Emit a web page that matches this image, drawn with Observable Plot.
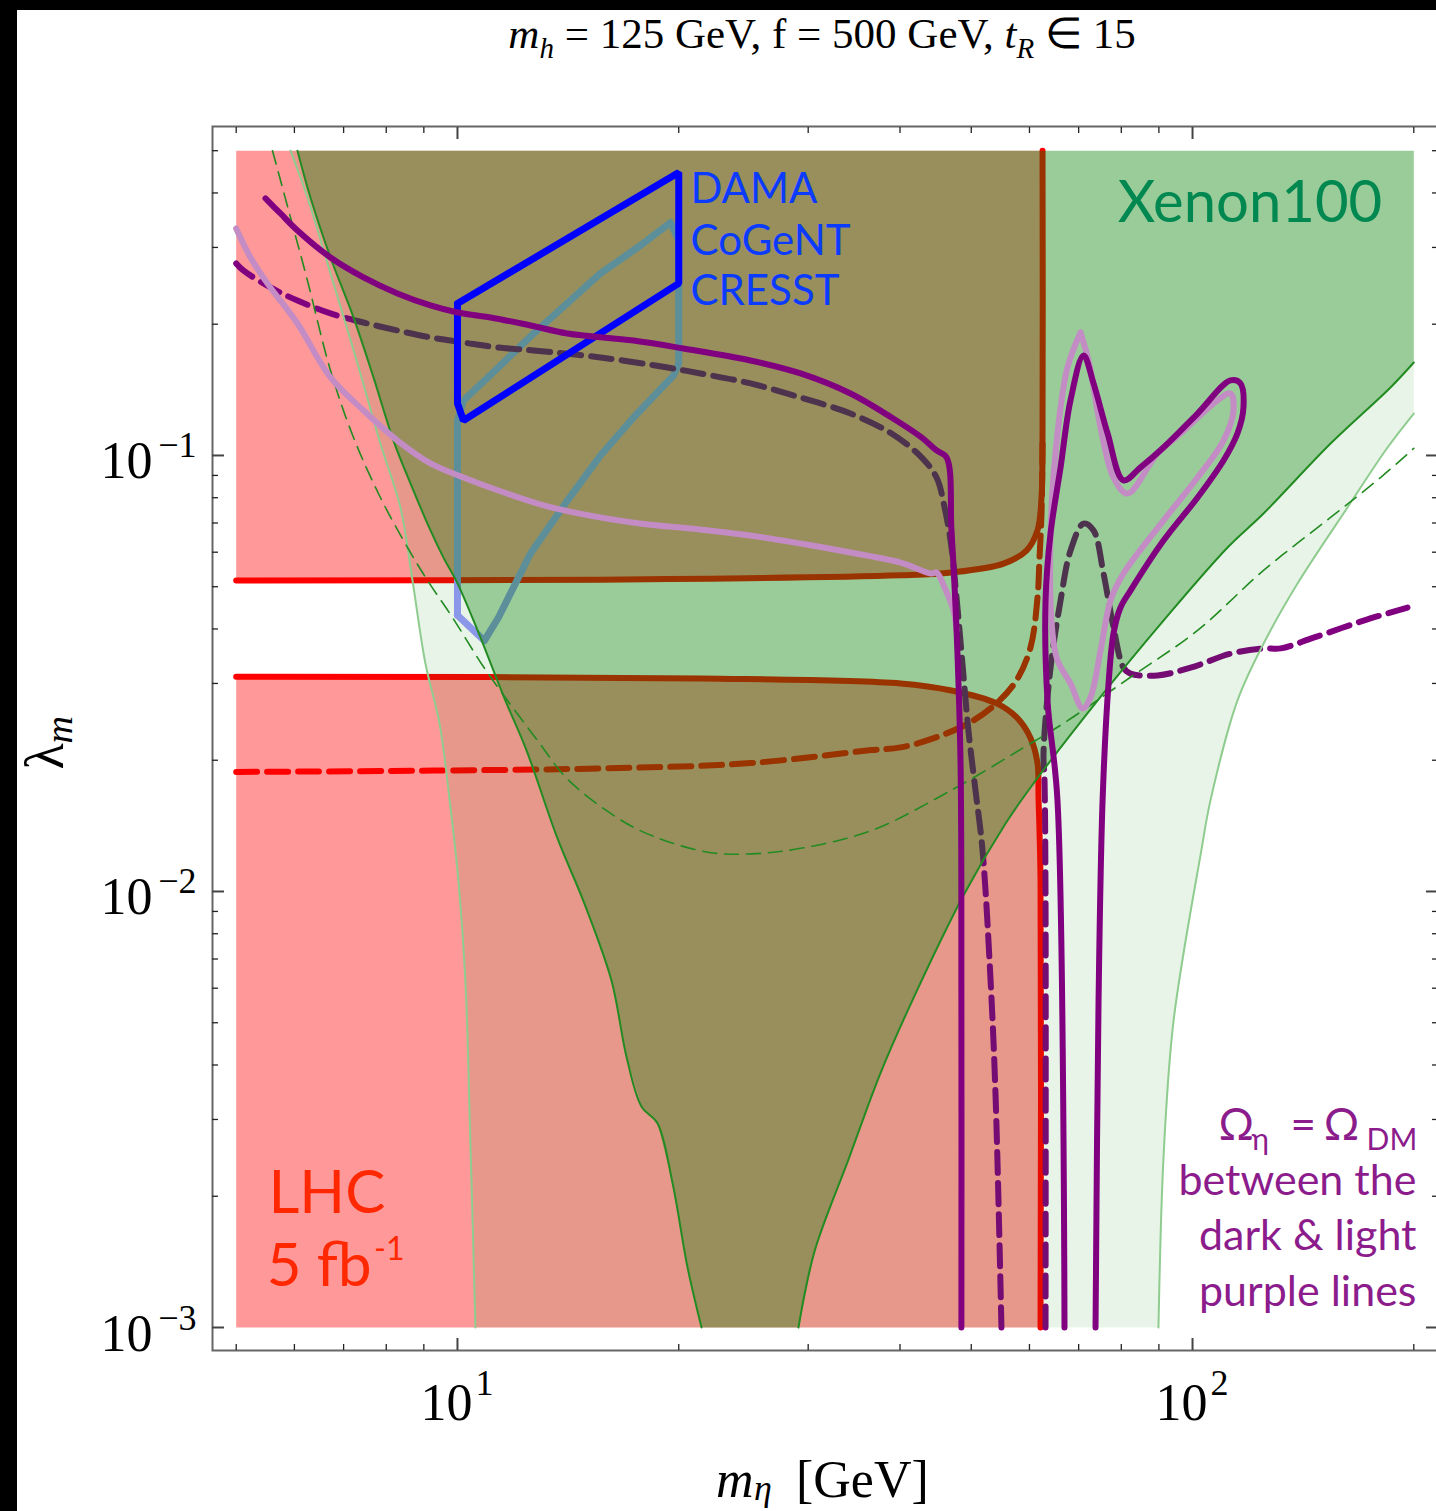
<!DOCTYPE html>
<html>
<head>
<meta charset="utf-8">
<script src="https://cdn.jsdelivr.net/npm/d3@7"></script>
<script src="https://cdn.jsdelivr.net/npm/@observablehq/plot@0.6"></script>
<style>
html, body { margin:0; padding:0; background:#fff; overflow:hidden; width:1436px; height:1511px; }
#edgeLeft { position:absolute; left:0; top:0; width:17px; height:1511px; background:#000; z-index:3; }
#edgeTop { position:absolute; left:0; top:0; width:1436px; height:10px; background:#000; z-index:3; }
#title { position:absolute; left:0; top:12px; width:1644px; text-align:center; font-family:"Liberation Serif","Times New Roman",serif; font-size:43px; line-height:43px; color:#000; white-space:nowrap; }
#title .sub { font-size:29px; position:relative; top:10px; font-style:italic; }
#chart { position:absolute; left:0; top:70px; width:1436px; height:1441px; overflow:hidden; }
#chart svg { max-width:none; }
</style>
</head>
<body>
<div id="edgeLeft"></div><div id="edgeTop"></div>
<div id="title"><i>m</i><span class="sub">h</span> = 125 GeV, f = 500 GeV, <i>t</i><span class="sub">R</span> ∈ 15</div>
<div id="chart"></div>
<script>
// ---------- data: [m_eta (GeV), lambda_m] ----------
const lhcUpper = [[5,0.0517],[15.65,0.0519],[40.07,0.0531],[47.0,0.0539],[55.33,0.0565],[59.44,0.0605],[61.53,0.0673],[62.31,0.0801],[62.51,0.1141],[62.51,0.5]];
const lhcLower = [[5,0.0311],[21.41,0.0308],[40.07,0.0300],[47.0,0.0289],[54.12,0.0270],[57.61,0.0251],[60.20,0.0225],[61.53,0.0197],[61.73,0.0164],[62.12,0.0106],[62.12,0.001]];
const lhcDashed = [[5,0.0188],[15.65,0.01915],[25.04,0.0197],[36.59,0.0211],[40.07,0.0214],[44.57,0.0225],[49.56,0.0243],[54.12,0.0270],[57.61,0.0305],[60.20,0.0363],[61.53,0.0472],[61.92,0.0583],[62.31,0.0736],[62.51,0.1065]];

const xenonLeft = [[6.058,0.5],[6.310,0.3905],[6.718,0.2845],[7.220,0.2073],[7.687,0.1510],[8.183,0.1082],[8.631,0.0863],[9.190,0.0673],[9.571,0.0583],[10,0.0509],[10.65,0.0397],[11.62,0.0274],[12.41,0.0211],[13.68,0.01323],[14.88,0.00939],[16.20,0.00625],[16.98,0.00418],[17.80,0.00321],[18.71,0.00294],[19.61,0.00215],[20.56,0.001373],[21.48,0.001]];
const xenonRight = [[29.10,0.001],[30.60,0.001494],[34.04,0.002429],[37.51,0.003784],[41.21,0.005446],[48.79,0.00979],[55.67,0.01432],[60.20,0.01732],[74.26,0.0274],[91.3,0.0418],[111.6,0.0615],[124.9,0.0736],[154.1,0.1065],[185.9,0.1432],[200,0.1634]];
const lightLeft = [[5.927,0.5],[6.250,0.3905],[6.718,0.2615],[7.311,0.1626],[7.855,0.1065],[8.363,0.0760],[8.685,0.0517],[9.046,0.0333],[9.452,0.0243],[9.783,0.01558],[10.03,0.0106],[10.25,0.00625],[10.42,0.002547],[10.58,0.001]];
const lightRight = [[89.88,0.001],[91.3,0.002442],[94.2,0.00503],[102.8,0.01242],[105.8,0.0162],[115.1,0.0274],[124.9,0.0370],[139.0,0.0509],[162.5,0.0760],[184.2,0.1043],[200,0.1248]];
const xenonDashed = [[5.602,0.5],[5.927,0.3515],[6.250,0.2520],[6.718,0.1567],[7.220,0.1100],[7.855,0.0801],[8.551,0.0615],[9.104,0.0517],[9.845,0.0425],[10.78,0.0333],[11.51,0.02845],[12.85,0.0222],[14.16,0.0180],[16.72,0.01455],[18.65,0.01330],[22.02,0.01229],[25.20,0.0122],[29.29,0.01256],[36.59,0.0138],[46.42,0.01688],[60.20,0.02185],[66.75,0.0243],[82.34,0.0310],[101.6,0.0397],[124.9,0.0545],[154.1,0.0721],[180.2,0.0890],[200,0.1038]];

const purpleSolid = [[5.481,0.3885],[5.744,0.3589],[6.058,0.3281],[6.718,0.2845],[7.451,0.2561],[8.287,0.2353],[9.190,0.2208],[10,0.2128],[11.09,0.2073],[12.57,0.1987],[14.11,0.1905],[17.36,0.1835],[20.30,0.1759],[25.04,0.1651],[29.29,0.1542],[34.25,0.1387],[38.95,0.1222],[42.79,0.1100],[44.85,0.1027],[46.28,0.0990],[47.0,0.0673],[47.75,0.0397],[48.35,0.0197],[48.48,0.00562],[48.48,0.001]];
const purpleLoop = [[66.96,0.001],[65.50,0.0162],[63.49,0.0274],[63.10,0.0465],[64.10,0.0663],[66.14,0.0939],[68.23,0.1337],[71.08,0.1695],[73.34,0.1463],[76.64,0.1123],[80.55,0.0877],[84.97,0.0939],[91.3,0.1043],[101.6,0.1248],[112.6,0.1486],[116.2,0.1463],[117.3,0.1288],[115.1,0.1123],[110.2,0.0974],[101.6,0.0801],[91.3,0.0638],[82.34,0.0490],[79.80,0.0448],[78.08,0.0391],[76.87,0.0300],[75.45,0.0162],[74.50,0.00562],[73.80,0.001]];
const purpleDashedLeft = [[5.0,0.2757],[5.113,0.2657],[5.567,0.2428],[6.058,0.2267],[6.718,0.2117],[7.451,0.2018],[8.287,0.1935],[9.190,0.1865],[10.19,0.1816],[11.33,0.1769],[12.69,0.1741],[15.65,0.1678],[19.31,0.1591],[21.41,0.1542],[25.04,0.1463],[29.29,0.1358],[34.25,0.1248],[38.95,0.1123],[42.79,0.0990],[44.85,0.0890],[45.99,0.0760],[47.0,0.0615],[47.75,0.0472],[48.64,0.0333],[49.56,0.0234],[50.68,0.0170],[51.80,0.01242],[53.12,0.00625],[53.95,0.00342],[54.96,0.001]];
const purpleDashedRight = [[63.10,0.001],[63.10,0.00954],[62.90,0.0180],[62.70,0.0207],[64.10,0.0326],[66.14,0.0465],[68.23,0.0605],[71.08,0.0698],[73.34,0.0673],[75.67,0.0536],[78.08,0.0403],[80.55,0.0326],[82.34,0.0316],[89.62,0.0313],[99.4,0.0326],[112.6,0.0351],[124.9,0.0361],[131.8,0.0361],[146.1,0.0382],[170.9,0.0418],[196.1,0.0448]];
const lightPurpleCurve = [[5.0,0.3316],[5.229,0.2845],[5.513,0.2481],[6.058,0.2008],[6.718,0.1510],[7.451,0.1268],[8.287,0.1082],[9.190,0.0959],[10.19,0.0890],[11.37,0.0831],[13.42,0.0760],[17.69,0.0698],[20.82,0.0680],[25.04,0.0655],[29.29,0.0628],[34.25,0.0599],[40.07,0.0568],[44.15,0.0536],[44.85,0.0539],[45.99,0.0498],[47.30,0.0441],[47.75,0.0397]];
const lightPurpleLoop = [[70.41,0.1915],[67.58,0.1591],[65.50,0.1123],[64.10,0.0663],[64.49,0.0391],[65.50,0.0339],[68.23,0.0300],[70.86,0.0263],[72.66,0.0279],[74.97,0.0357],[77.35,0.0465],[80.55,0.0536],[91.3,0.0709],[101.6,0.0890],[110.2,0.1082],[113.7,0.1268],[112.6,0.1387],[108.1,0.1337],[96.31,0.1123],[89.62,0.1011],[81.57,0.0818],[78.08,0.0890],[74.97,0.1159],[72.20,0.1651],[70.41,0.1915]];

const cogent = [[10,0.0430],[10,0.1203],[10.19,0.1337],[11.44,0.1608],[12.69,0.1904],[14.25,0.2267],[15.65,0.2615],[17.74,0.3031],[19.49,0.3423],[20.0,0.3112],[20.0,0.1626],[19.68,0.1526],[17.36,0.1222],[15.65,0.1],[14.11,0.0788],[12.57,0.0596],[11.37,0.0425],[10.88,0.0376]];
const dama = [[10,0.2231],[20,0.4457],[20,0.2481],[10.19,0.1203],[10,0.1316]];

// ---------- labels ----------
const blueLabels = [{text:"DAMA", m:20.75, lam:0.3784},{text:"CoGeNT", m:20.75, lam:0.2875},{text:"CRESST", m:20.75, lam:0.2208}];
const xenonLabel = [{text:"Xenon100", m:79.1, lam:0.3423}];
const lhcLabels = [{text:"LHC", m:5.533, lam:0.001835},{text:"5 fb", m:5.50, lam:0.001248}];
const lhcExponent = [{text:"-1", m:7.70, lam:0.00143}];
const relicBig = [{text:"Ω", m:108.5, lam:0.002685},{text:"=", m:135.9, lam:0.002685},{text:"Ω", m:150.8, lam:0.002685}];
const relicSub = [{text:"η", m:120.3, lam:0.002547},{text:"DM", m:172.5, lam:0.002547}];
const relicLines = [{text:"between the", m:201.7, lam:0.002008},{text:"dark & light", m:201.7, lam:0.001502},{text:"purple lines", m:201.7, lam:0.001123}];

const xMajorTicks = [10, 100];
const xMinorTicks = [5,6,7,8,9,20,30,40,50,60,70,80,90,200];
const yMajorTicks = [0.001, 0.01, 0.1];
const yMinorTicks = [0.002,0.003,0.004,0.005,0.006,0.007,0.008,0.009,0.02,0.03,0.04,0.05,0.06,0.07,0.08,0.09,0.2,0.3,0.4,0.5];
const xTickLabels = [{v:10, base:"10", exp:"1"},{v:100, base:"10", exp:"2"}];
const yTickLabels = [{v:0.1, base:"10", exp:"\u22121"},{v:0.01, base:"10", exp:"\u22122"},{v:0.001, base:"10", exp:"\u22123"}];

// ---------- styles ----------
const pink = "#ff9999", red = "#ff0000", purple = "#800080", lightPurple = "#c48cc4";
const darkGreen = "#228b22", lightGreenLine = "#8fcc8f";
const serif = "'Liberation Serif', 'Times New Roman', serif";
const sans = "Lato, 'Open Sans', sans-serif";
const cr = "catmull-rom";
const L = (data, opts) => Plot.line(data, {x: d => d[0], y: d => d[1], ...opts});
const closed = a => [...a, a[0]];
const rev = a => [...a].reverse();

// faint band: light boundary minus the Xenon100 region (two pieces)
const faintLeftPoly = [...lightLeft, ...rev(xenonLeft)];
const faintRightPoly = [...xenonRight, ...rev(lightRight)];

const marks = [
  L([...lhcUpper, [5, 0.5]], {fill: pink, stroke: "none"}),
  L([...lhcLower, [5, 0.001]], {fill: pink, stroke: "none"}),
  L(lhcUpper, {stroke: red, strokeWidth: 6, curve: cr}),
  L(lhcLower, {stroke: red, strokeWidth: 6, curve: cr}),
  L(lhcDashed, {stroke: red, strokeWidth: 6, strokeDasharray: "21,10", curve: cr}),
  L(closed(cogent), {stroke: "#9999ff", strokeWidth: 7, strokeLinejoin: "round"}),
  L(purpleDashedLeft, {stroke: purple, strokeWidth: 6, strokeDasharray: "21,10", curve: cr}),
  L(purpleDashedRight, {stroke: purple, strokeWidth: 6, strokeDasharray: "21,10", curve: cr}),
  L(faintLeftPoly, {fill: "#008000", fillOpacity: 0.09, stroke: "none"}),
  L(faintRightPoly, {fill: "#008000", fillOpacity: 0.09, stroke: "none"}),
  L([...xenonLeft, ...xenonRight, [200, 0.5]], {fill: "#008000", fillOpacity: 0.4, stroke: "none"}),
  L(lightLeft, {stroke: lightGreenLine, strokeWidth: 2, curve: cr}),
  L(lightRight, {stroke: lightGreenLine, strokeWidth: 2, curve: cr}),
  L(xenonLeft, {stroke: darkGreen, strokeWidth: 2, curve: cr}),
  L(xenonRight, {stroke: darkGreen, strokeWidth: 2, curve: cr}),
  L(xenonDashed, {stroke: darkGreen, strokeWidth: 1.6, strokeDasharray: "14,8", curve: cr}),
  L(closed(dama), {stroke: "#0000ff", strokeWidth: 7, strokeLinejoin: "miter"}),
  L(lightPurpleCurve, {stroke: lightPurple, strokeWidth: 6, curve: cr}),
  L(lightPurpleLoop, {stroke: lightPurple, strokeWidth: 6, curve: cr}),
  L(purpleSolid, {stroke: purple, strokeWidth: 6, curve: cr}),
  L(purpleLoop, {stroke: purple, strokeWidth: 6, curve: cr}),

  Plot.text(blueLabels, {x: "m", y: "lam", text: "text", textAnchor: "start", lineAnchor: "bottom", fontSize: 42, fontFamily: sans, fill: "#0b3bff"}),
  Plot.text(xenonLabel, {x: "m", y: "lam", text: "text", textAnchor: "start", lineAnchor: "bottom", fontSize: 58, fontFamily: sans, fill: "#008850"}),
  Plot.text(lhcLabels, {x: "m", y: "lam", text: "text", textAnchor: "start", lineAnchor: "bottom", fontSize: 60, fontFamily: sans, fill: "#ff2800"}),
  Plot.text(lhcExponent, {x: "m", y: "lam", text: "text", textAnchor: "start", lineAnchor: "bottom", fontSize: 32, fontFamily: sans, fill: "#ff2800"}),
  Plot.text(relicBig, {x: "m", y: "lam", text: "text", textAnchor: "start", lineAnchor: "bottom", fontSize: 44, fontFamily: sans, fill: "#8c1c8c"}),
  Plot.text(relicSub, {x: "m", y: "lam", text: "text", textAnchor: "start", lineAnchor: "bottom", fontSize: 30, fontFamily: sans, fill: "#8c1c8c"}),
  Plot.text(relicLines, {x: "m", y: "lam", text: "text", textAnchor: "end", lineAnchor: "bottom", fontSize: 43, fontFamily: sans, fill: "#8c1c8c"}),

  Plot.frame({stroke: "#666", strokeWidth: 2}),
  Plot.axisX(xMajorTicks, {anchor: "bottom", tickSize: -12, fill: "none", stroke: "#444", strokeWidth: 2}),
  Plot.axisX(xMajorTicks, {anchor: "top", tickSize: -12, fill: "none", stroke: "#444", strokeWidth: 2}),
  Plot.axisX(xMinorTicks, {anchor: "bottom", tickSize: -6, fill: "none", stroke: "#222", strokeWidth: 1.3}),
  Plot.axisX(xMinorTicks, {anchor: "top", tickSize: -6, fill: "none", stroke: "#222", strokeWidth: 1.3}),
  Plot.axisY(yMajorTicks, {anchor: "left", tickSize: -12, fill: "none", stroke: "#444", strokeWidth: 2}),
  Plot.axisY(yMajorTicks, {anchor: "right", tickSize: -12, fill: "none", stroke: "#444", strokeWidth: 2}),
  Plot.axisY(yMinorTicks, {anchor: "left", tickSize: -6, fill: "none", stroke: "#222", strokeWidth: 1.3}),
  Plot.axisY(yMinorTicks, {anchor: "right", tickSize: -6, fill: "none", stroke: "#222", strokeWidth: 1.3}),

  Plot.text(xTickLabels, {x: "v", frameAnchor: "bottom", text: "base", textAnchor: "end", lineAnchor: "bottom", dx: 15, dy: 69, fontSize: 52, fontFamily: serif, fill: "#000"}),
  Plot.text(xTickLabels, {x: "v", frameAnchor: "bottom", text: "exp", textAnchor: "start", lineAnchor: "bottom", dx: 18, dy: 44, fontSize: 36, fontFamily: serif, fill: "#000"}),
  Plot.text(yTickLabels, {y: "v", frameAnchor: "left", text: "base", textAnchor: "end", lineAnchor: "bottom", dx: -60, dy: 23, fontSize: 52, fontFamily: serif, fill: "#000"}),
  Plot.text(yTickLabels, {y: "v", frameAnchor: "left", text: "exp", textAnchor: "end", lineAnchor: "bottom", dx: -16, dy: 2, fontSize: 36, fontFamily: serif, fill: "#000"}),

  Plot.text(["m"], {frameAnchor: "bottom", text: d => d, textAnchor: "start", lineAnchor: "bottom", dx: -109, dy: 146, fontSize: 52, fontStyle: "italic", fontFamily: serif, fill: "#000"}),
  Plot.text(["η"], {frameAnchor: "bottom", text: d => d, textAnchor: "start", lineAnchor: "bottom", dx: -71, dy: 149, fontSize: 36, fontStyle: "italic", fontFamily: serif, fill: "#000"}),
  Plot.text(["[GeV]"], {frameAnchor: "bottom", text: d => d, textAnchor: "start", lineAnchor: "bottom", dx: -29, dy: 146, fontSize: 52, fontFamily: serif, fill: "#000"}),
  Plot.text(["λ"], {frameAnchor: "left", text: d => d, rotate: -90, textAnchor: "start", lineAnchor: "bottom", dx: -150, dy: 31, fontSize: 54, fontFamily: serif, fill: "#000"}),
  Plot.text(["m"], {frameAnchor: "left", text: d => d, rotate: -90, textAnchor: "start", lineAnchor: "bottom", dx: -141, dy: 5, fontSize: 38, fontStyle: "italic", fontFamily: serif, fill: "#000"})
];

const chart = Plot.plot({
  width: 1440, height: 1441,
  marginLeft: 212, marginRight: 3, marginTop: 56, marginBottom: 161,
  x: {type: "log", domain: [5, 200], range: [235.7, 1413.3]},
  y: {type: "log", domain: [0.001, 0.5], range: [1257, 80.2]},
  style: {background: "transparent", maxWidth: "none", overflow: "visible"},
  marks
});
document.getElementById("chart").appendChild(chart);
</script>
</body>
</html>
